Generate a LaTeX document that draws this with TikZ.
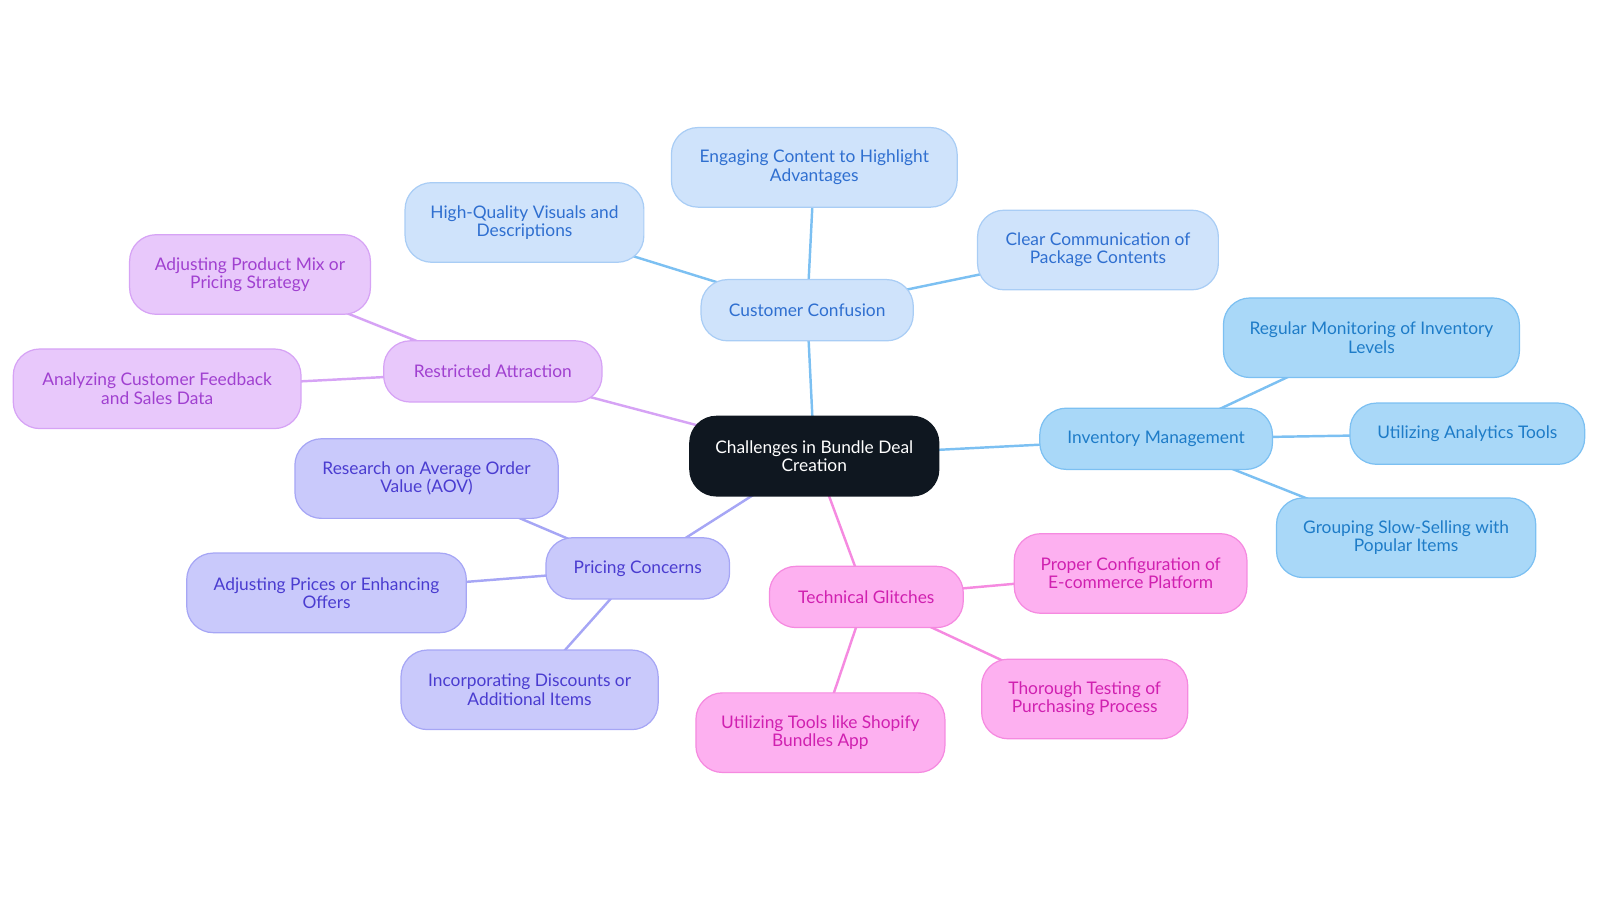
\documentclass[tikz,border=0pt]{standalone}
\usepackage{fontspec}
\setmainfont{Lato}
\usetikzlibrary{backgrounds}
\definecolor{bF}{HTML}{CFE3FB}\definecolor{bD}{HTML}{A9CDF5}\definecolor{bT}{HTML}{2F6FD0}
\definecolor{cF}{HTML}{A9D8F8}\definecolor{cD}{HTML}{7CC0F2}\definecolor{cT}{HTML}{1E7CC8}
\definecolor{pF}{HTML}{FDB0F0}\definecolor{pD}{HTML}{F58AE0}\definecolor{pT}{HTML}{D020B0}
\definecolor{vF}{HTML}{C9C9FB}\definecolor{vD}{HTML}{A6A6F5}\definecolor{vT}{HTML}{4A3CD0}
\definecolor{mF}{HTML}{E8C8FB}\definecolor{mD}{HTML}{D6A3F5}\definecolor{mT}{HTML}{A040D0}
\definecolor{rootF}{HTML}{0F1720}
\tikzset{
 n/.style={rounded corners=13pt,align=center,font=\fontsize{8.5}{9}\selectfont,inner sep=0pt,line width=0.6pt},
 big/.style={n,minimum height=39pt},
 sm/.style={n,minimum height=30pt},
 B/.style={fill=bF,draw=bD,text=bT},
 C/.style={fill=cF,draw=cD,text=cT},
 P/.style={fill=pF,draw=pD,text=pT},
 V/.style={fill=vF,draw=vD,text=vT},
 M/.style={fill=mF,draw=mD,text=mT},
 e/.style={line width=1.2pt}
}
\begin{document}
\begin{tikzpicture}[x=0.5pt,y=-0.5pt]
\useasboundingbox (0,0) rectangle (1568,885);
\node[big,fill=rootF,draw=rootF,text=white,minimum width=122pt] (root) at (798,447) {Challenges in Bundle Deal\\Creation};
\node[sm,B,minimum width=104pt] (cc) at (791,304) {Customer Confusion};
\node[big,B,minimum width=140pt] (ec) at (798,164) {Engaging Content to Highlight\\Advantages};
\node[big,B,minimum width=117pt] (hq) at (514,218) {High-Quality Visuals and\\Descriptions};
\node[big,B,minimum width=118pt] (cl) at (1076,245) {Clear Communication of\\Package Contents};
\node[sm,C,minimum width=114pt] (im) at (1133,430) {Inventory Management};
\node[big,C,minimum width=145pt] (rm) at (1344,331) {Regular Monitoring of Inventory\\Levels};
\node[sm,C,minimum width=115pt] (ua) at (1438,425) {Utilizing Analytics Tools};
\node[big,C,minimum width=127pt] (gr) at (1378,527) {Grouping Slow-Selling with\\Popular Items};
\node[sm,P,minimum width=95pt] (tg) at (849,585) {Technical Glitches};
\node[big,P,minimum width=114pt] (pc) at (1108,562) {Proper Configuration of\\E-commerce Platform};
\node[big,P,minimum width=101pt] (tt) at (1063,685) {Thorough Testing of\\Purchasing Process};
\node[big,P,minimum width=122pt] (ut) at (804,718) {Utilizing Tools like Shopify\\Bundles App};
\node[sm,V,minimum width=90pt] (pr) at (625,557) {Pricing Concerns};
\node[big,V,minimum width=129pt] (ra) at (418,469) {Research on Average Order\\Value (AOV)};
\node[big,V,minimum width=137pt] (ap) at (320,581) {Adjusting Prices or Enhancing\\Offers};
\node[big,V,minimum width=126pt] (id) at (519,676) {Incorporating Discounts or\\Additional Items};
\node[sm,M,minimum width=107pt] (rs) at (483,364) {Restricted Attraction};
\node[big,M,minimum width=118pt] (am) at (245,269) {Adjusting Product Mix or\\Pricing Strategy};
\node[big,M,minimum width=141pt] (an) at (154,381) {Analyzing Customer Feedback\\and Sales Data};
\begin{scope}[on background layer]
\draw[e,cD] (root.center)--(cc.center) (cc.center)--(ec.center) (cc.center)--(hq.center) (cc.center)--(cl.center);
\draw[e,cD] (root.center)--(im.center) (im.center)--(rm.center) (im.center)--(ua.center) (im.center)--(gr.center);
\draw[e,pD] (root.center)--(tg.center) (tg.center)--(pc.center) (tg.center)--(tt.center) (tg.center)--(ut.center);
\draw[e,vD] (root.center)--(pr.center) (pr.center)--(ra.center) (pr.center)--(ap.center) (pr.center)--(id.center);
\draw[e,mD] (root.center)--(rs.center) (rs.center)--(am.center) (rs.center)--(an.center);
\end{scope}
\end{tikzpicture}
\end{document}
